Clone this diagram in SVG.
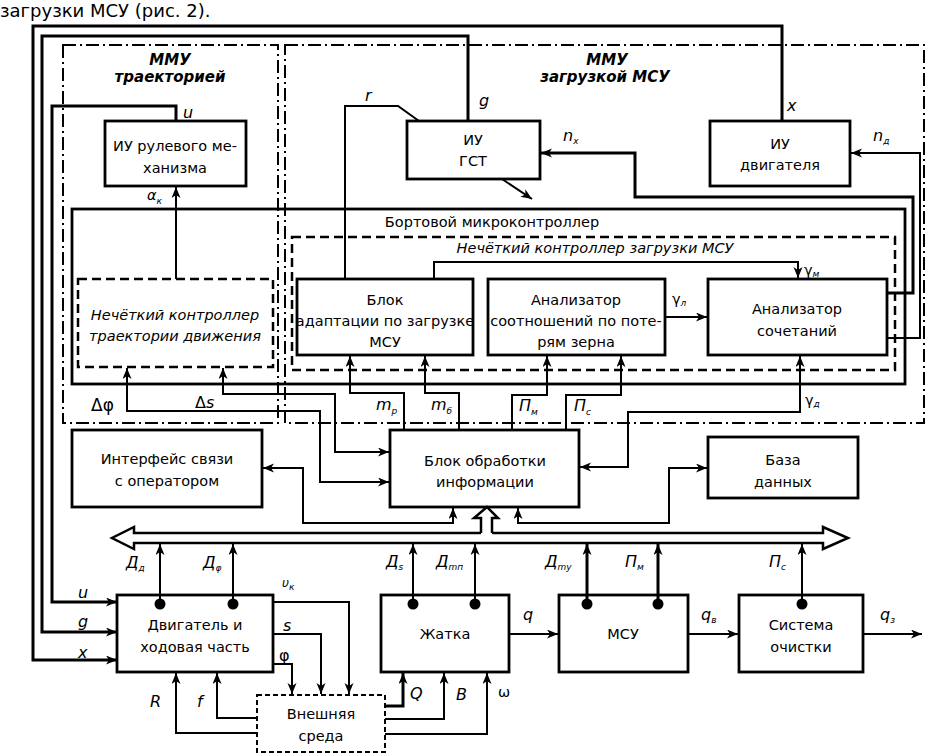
<svg xmlns="http://www.w3.org/2000/svg" width="927" height="754" viewBox="0 0 927 754">
<style>
.box{fill:#fff;stroke:#000;stroke-width:2.8}
.dbox{fill:none;stroke:#000;stroke-width:2.5;stroke-dasharray:9 5}
.ebox{fill:#fff;stroke:#000;stroke-width:2;stroke-dasharray:5 3}
.dd{fill:none;stroke:#000;stroke-width:2;stroke-dasharray:13 4 2 4}
.w{fill:none;stroke:#000;stroke-width:2}
.wt{fill:none;stroke:#000;stroke-width:3}
.bus{fill:none;stroke:#000;stroke-width:2.5}
text{font-family:"DejaVu Sans","Liberation Sans",sans-serif;font-size:14.5px;fill:#000}
.c{text-anchor:middle}
.i{font-style:italic}
.l{font-size:16px}
.bi{font-style:italic;font-weight:bold;font-size:15px}
.s{font-size:9px}
</style>
<defs>
<marker id="a" markerWidth="13" markerHeight="10" refX="11" refY="4.5" orient="auto-start-reverse" markerUnits="userSpaceOnUse">
<path d="M0,0 L11,4.5 L0,9 L3,4.5z" fill="#000"/>
</marker>
</defs>

<text x="0" y="17" style="font-size:18px">загрузки МСУ (рис. 2).</text>

<g id="regions">
<rect class="dd" x="63" y="45" width="215" height="378"/>
<rect class="dd" x="285" y="45" width="639" height="378"/>
<text class="bi c" x="170" y="65">ММУ</text>
<text class="bi c" x="170" y="82">траекторией</text>
<text class="bi c" x="607" y="65">ММУ</text>
<text class="bi c" x="605" y="82">загрузкой МСУ</text>
</g>

<g id="onboard">
<rect class="box" x="72" y="209" width="833" height="175" style="fill:none"/>
<text class="c" x="492" y="227">Бортовой микроконтроллер</text>
</g>
<g id="fuzzy-load">
<rect class="dbox" x="292" y="237" width="603" height="133"/>
<text class="c i" x="595" y="253">Нечёткий контроллер загрузки МСУ</text>
</g>

<g id="iu-rul">
<rect class="box" x="105" y="121" width="141" height="65"/>
<text class="c" x="175" y="151">ИУ рулевого ме-</text>
<text class="c" x="175" y="173">ханизма</text>
</g>
<g id="iu-gst">
<rect class="box" x="407" y="121" width="133" height="58"/>
<text class="c" x="473" y="145">ИУ</text>
<text class="c" x="473" y="166">ГСТ</text>
</g>
<g id="iu-dv">
<rect class="box" x="710" y="121" width="140" height="65"/>
<text class="c" x="780" y="149">ИУ</text>
<text class="c" x="780" y="170">двигателя</text>
</g>

<g id="fuzzy-traj">
<rect class="dbox" x="78" y="279" width="195" height="88"/>
<text class="c i" x="175" y="320">Нечёткий контроллер</text>
<text class="c i" x="175" y="341">траектории движения</text>
</g>
<g id="adapt">
<rect class="box" x="297" y="279" width="176" height="76"/>
<text class="c" x="385" y="305">Блок</text>
<text class="c" x="385" y="326">адаптации по загрузке</text>
<text class="c" x="385" y="347">МСУ</text>
</g>
<g id="ratio">
<rect class="box" x="488" y="279" width="177" height="76"/>
<text class="c" x="576" y="305">Анализатор</text>
<text class="c" x="576" y="326">соотношений по поте-</text>
<text class="c" x="576" y="347">рям зерна</text>
</g>
<g id="comb">
<rect class="box" x="708" y="279" width="179" height="76"/>
<text class="c" x="797" y="314">Анализатор</text>
<text class="c" x="797" y="336">сочетаний</text>
</g>

<g id="iface">
<rect class="box" x="72" y="430" width="190" height="77"/>
<text class="c" x="167" y="464">Интерфейс связи</text>
<text class="c" x="167" y="486">с оператором</text>
</g>
<g id="proc">
<rect class="box" x="390" y="430" width="189" height="77"/>
<text class="c" x="485" y="466">Блок обработки</text>
<text class="c" x="485" y="487">информации</text>
</g>
<g id="db">
<rect class="box" x="708" y="437" width="150" height="61"/>
<text class="c" x="783" y="465">База</text>
<text class="c" x="783" y="487">данных</text>
</g>

<g id="engine">
<rect class="box" x="117" y="595" width="156" height="77"/>
<text class="c" x="195" y="630">Двигатель и</text>
<text class="c" x="195" y="652">ходовая часть</text>
</g>
<g id="header">
<rect class="box" x="381" y="595" width="128" height="77"/>
<text class="c" x="445" y="639">Жатка</text>
</g>
<g id="msu">
<rect class="box" x="559" y="595" width="129" height="77"/>
<text class="c" x="623" y="639">МСУ</text>
</g>
<g id="clean">
<rect class="box" x="739" y="595" width="124" height="77"/>
<text class="c" x="801" y="630">Система</text>
<text class="c" x="801" y="652">очистки</text>
</g>
<g id="env">
<rect class="ebox" x="257" y="695" width="128" height="57"/>
<text class="c" x="321" y="719">Внешняя</text>
<text class="c" x="321" y="741">среда</text>
</g>

<g id="connectors">
<path class="wt" d="M782,121 V26 H33 V660 H117" marker-end="url(#a)"/>
<path class="wt" d="M468,121 V36 H42 V632 H117" marker-end="url(#a)"/>
<path class="wt" d="M176,121 V106 H52 V602 H117" marker-end="url(#a)"/>
<path class="w" d="M176,279 V187" marker-end="url(#a)"/>
<path class="w" d="M345,279 V106 H398 L419,121"/>
<path class="w" d="M502,179 L532,199" marker-end="url(#a)"/>
<path class="wt" d="M887,293 H913 V197 H635 V153 H541" marker-end="url(#a)"/>
<path class="w" d="M887,338 H920 V153 H851" marker-end="url(#a)"/>
<path class="w" d="M434,279 V262 H798 V278" marker-end="url(#a)"/>
<path class="w" d="M665,317 H707" marker-end="url(#a)"/>
<path class="w" d="M404,430 V393 H350 V356" marker-end="url(#a)"/>
<path class="w" d="M459,430 V393 H425 V356" marker-end="url(#a)"/>
<path class="w" d="M512,430 V395 H547 V356" marker-end="url(#a)"/>
<path class="w" d="M566,430 V395 H621 V356" marker-end="url(#a)"/>
<path class="w" d="M580,467 H628 V412 H800 V356" marker-start="url(#a)" marker-end="url(#a)"/>
<path class="w" d="M127,368 V411 H320 V482 H389" marker-start="url(#a)" marker-end="url(#a)"/>
<path class="w" d="M223,368 V394 H335 V452 H389" marker-start="url(#a)" marker-end="url(#a)"/>
<path class="w" d="M263,468 H303 V523 H453 V508" marker-start="url(#a)" marker-end="url(#a)"/>
<path class="w" d="M518,508 V523 H669 V468 H707" marker-start="url(#a)" marker-end="url(#a)"/>
<path class="bus" d="M481,533 H134 V527 L112,538 L134,549 V543 H823 V549 L848,538 L823,527 V533 H492"/>
<path class="bus" d="M481,533 V518 H474 L487,507 L498,518 H492 V533"/>
<path class="w" d="M160,603 V544" marker-end="url(#a)"/>
<path class="w" d="M233,603 V544" marker-end="url(#a)"/>
<path class="w" d="M413,603 V544" marker-end="url(#a)"/>
<path class="w" d="M475,603 V544" marker-end="url(#a)"/>
<path class="wt" d="M587,603 V544" marker-end="url(#a)"/>
<path class="wt" d="M658,603 V544" marker-end="url(#a)"/>
<path class="w" d="M802,603 V544" marker-end="url(#a)"/>
<circle cx="160" cy="604" r="5.5"/>
<circle cx="233" cy="604" r="5.5"/>
<circle cx="413" cy="604" r="5.5"/>
<circle cx="475" cy="604" r="5.5"/>
<circle cx="587" cy="604" r="5.5"/>
<circle cx="658" cy="604" r="5.5"/>
<circle cx="802" cy="604" r="5.5"/>
<path class="w" d="M509,634 H558" marker-end="url(#a)"/>
<path class="w" d="M688,634 H738" marker-end="url(#a)"/>
<path class="w" d="M863,634 H922" marker-end="url(#a)"/>
<path class="w" d="M273,602 H349 V694" marker-end="url(#a)"/>
<path class="w" d="M273,634 H321 V694" marker-end="url(#a)"/>
<path class="w" d="M273,664 H292 V694" marker-end="url(#a)"/>
<path class="w" d="M257,733 H176 V673" marker-end="url(#a)"/>
<path class="w" d="M257,718 H217 V673" marker-end="url(#a)"/>
<path class="wt" d="M385,706 H403 V673" marker-end="url(#a)"/>
<path class="w" d="M385,719 H444 V673" marker-end="url(#a)"/>
<path class="w" d="M385,734 H487 V673" marker-end="url(#a)"/>
</g>

<g id="labels">
<text class="i l" x="183" y="118">u</text>
<text class="i" x="147" y="200">α<tspan class="s" dy="4">к</tspan></text>
<text class="i l" x="365" y="101">r</text>
<text class="i l" x="479" y="106">g</text>
<text class="i l" x="787" y="111">x</text>
<text class="i l" x="563" y="141">n<tspan class="s" dy="3">х</tspan></text>
<text class="i l" x="873" y="141">n<tspan class="s" dy="3">д</tspan></text>
<text x="804" y="275">γ<tspan class="s i" dy="2">м</tspan></text>
<text x="672" y="304">γ<tspan class="s i" dy="2">л</tspan></text>
<text x="805" y="405">γ<tspan class="s i" dy="2">д</tspan></text>
<text x="91" y="411" style="font-size:17px">Δφ</text>
<text x="195" y="408" class="l">Δ<tspan class="i">s</tspan></text>
<text class="i l" x="376" y="410">m<tspan class="s" dy="4">р</tspan></text>
<text class="i l" x="431" y="410">m<tspan class="s" dy="4">б</tspan></text>
<text class="i l" x="519" y="411">П<tspan class="s" dy="4">м</tspan></text>
<text class="i l" x="574" y="411">П<tspan class="s" dy="4">с</tspan></text>
<text class="i l" x="126" y="568">Д<tspan class="s" dy="3">д</tspan></text>
<text class="i l" x="203" y="568">Д<tspan class="s" dy="3">φ</tspan></text>
<text class="i l" x="386" y="567">Д<tspan class="s" dy="3">s</tspan></text>
<text class="i l" x="436" y="567">Д<tspan class="s" dy="3">mп</tspan></text>
<text class="i l" x="545" y="567">Д<tspan class="s" dy="3">mу</tspan></text>
<text class="i l" x="625" y="567">П<tspan class="s" dy="3">м</tspan></text>
<text class="i l" x="769" y="567">П<tspan class="s" dy="3">с</tspan></text>
<text class="i l" x="78" y="598">u</text>
<text class="i l" x="78" y="627">g</text>
<text class="i l" x="78" y="658">x</text>
<text class="i" x="282" y="587" style="font-size:12px">υ<tspan class="s" dy="3">к</tspan></text>
<text class="i l" x="283" y="631">s</text>
<text x="279" y="661" class="l">φ</text>
<text class="i l" x="150" y="707">R</text>
<text class="i l" x="197" y="707">f</text>
<text class="i l" x="410" y="699">Q</text>
<text class="i l" x="456" y="700">B</text>
<text x="498" y="697">ω</text>
<text class="i l" x="523" y="620">q</text>
<text class="i l" x="701" y="620">q<tspan class="s" dy="3">в</tspan></text>
<text class="i l" x="880" y="620">q<tspan class="s" dy="3">з</tspan></text>
</g>
</svg>
